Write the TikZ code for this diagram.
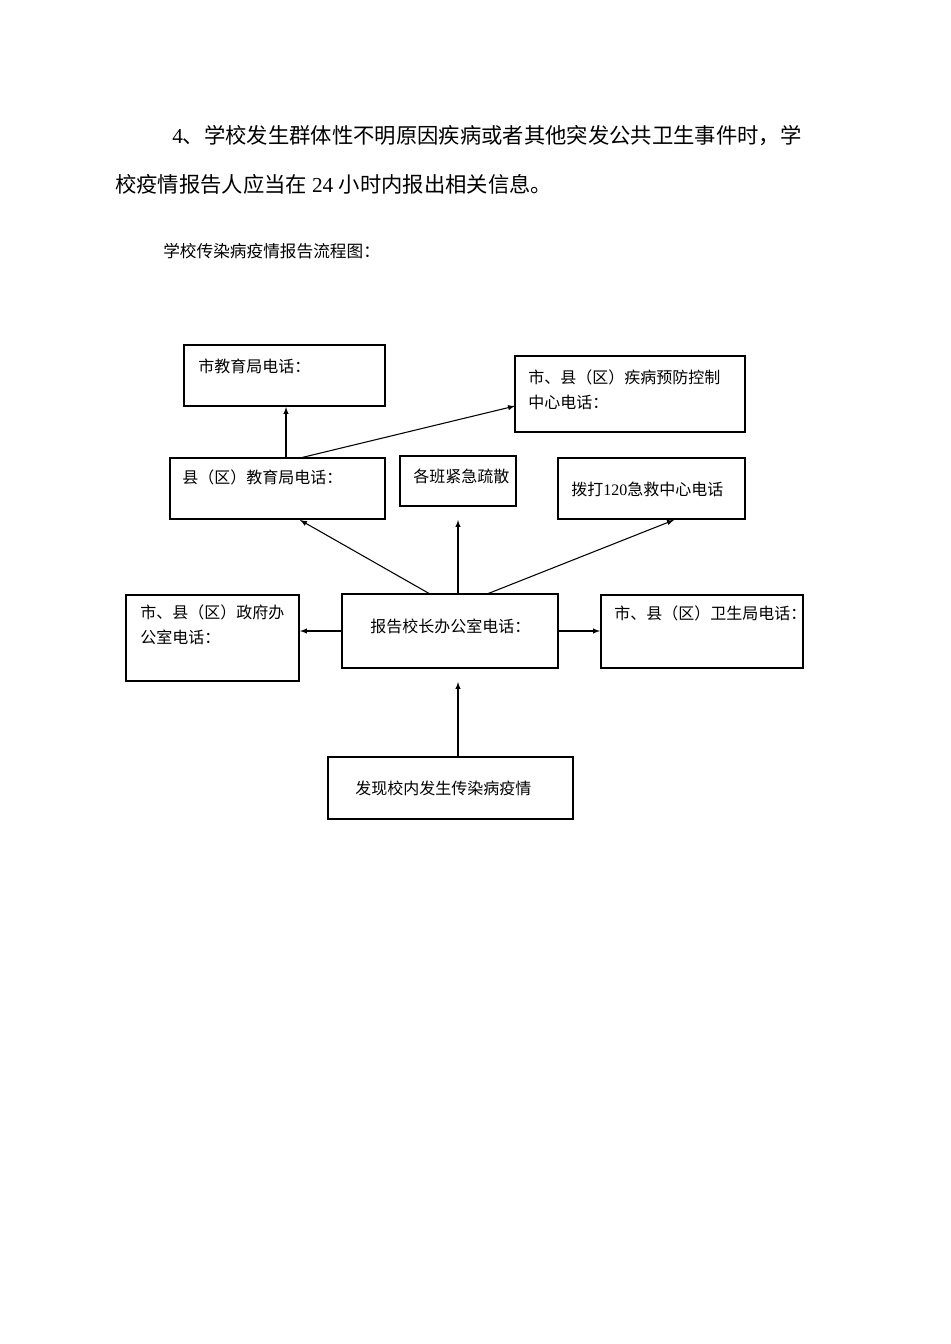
\documentclass[tikz,border=0pt]{standalone}
\usepackage{fontspec}
\setmainfont{Liberation Serif}
\newfontfamily\cjk{Noto Sans CJK SC}
\begin{document}
\begin{tikzpicture}[x=0.75pt,y=-0.75pt,
  bx/.style={draw,line width=0.8pt},
  lb/.style={anchor=west,inner sep=0pt,font=\cjk\fontsize{12}{19}\selectfont,align=left},
  ar/.style={-latex,line width=0.8pt}]
\useasboundingbox (0,0) rectangle (950,1344);
\node[anchor=west,inner sep=0pt,font=\cjk\fontsize{16}{20}\selectfont] (p1) at (172,136) {\rmfamily 4\cjk 、学校发生群体性不明原因疾病或者其他突发公共卫生事件时，学};
\node[anchor=west,inner sep=0pt,font=\cjk\fontsize{16}{20}\selectfont] (p2) at (115,184) {校疫情报告人应当在 \rmfamily 24 \cjk 小时内报出相关信息。};
\node[anchor=west,inner sep=0pt,font=\cjk\fontsize{12.5}{16}\selectfont] (cap) at (163,251) {学校传染病疫情报告流程图：};

\draw[bx] (184,345) rectangle (385,406); \node[lb] (t1) at (198,366) {市教育局电话：};
\coordinate (b1) at (286,407);
\draw[bx] (515,356) rectangle (745,432); \node[lb] (t2) at (528,390) {市、县（区）疾病预防控制\\中心电话：};
\coordinate (b2) at (515,406);
\draw[bx] (170,458) rectangle (385,519); \node[lb] (t3) at (182,477) {县（区）教育局电话：};
\coordinate (b3a) at (286,458); \coordinate (b3b) at (300,458); \coordinate (b3c) at (300,520);
\draw[bx] (400,456) rectangle (516,506); \node[lb] (t4) at (413,476) {各班紧急疏散};
\coordinate (b4) at (458,520);
\draw[bx] (558,458) rectangle (745,519); \node[lb] (t5) at (571,489) {拨打\rmfamily 120\cjk 急救中心电话};
\coordinate (b5) at (674,520);
\draw[bx] (126,595) rectangle (299,681); \node[lb] (t6) at (140,625) {市、县（区）政府办\\公室电话：};
\coordinate (b6) at (300,631);
\draw[bx] (342,594) rectangle (558,668); \node[lb] (t7) at (370,626) {报告校长办公室电话：};
\coordinate (c7l) at (342,631); \coordinate (c7r) at (558,631);
\coordinate (c7a) at (430,594); \coordinate (c7b) at (458,594); \coordinate (c7c) at (487,594);
\coordinate (c7d) at (458,682);
\draw[bx] (601,595) rectangle (803,668); \node[lb] (t8) at (614,613) {市、县（区）卫生局电话：};
\coordinate (b8) at (600,631);
\draw[bx] (328,757) rectangle (573,819); \node[lb] (t9) at (355,788) {发现校内发生传染病疫情};
\coordinate (c9) at (458,757);

\draw[ar] (c9) -- (c7d);
\draw[ar] (c7l) -- (b6);
\draw[ar] (c7r) -- (b8);
\draw[ar] (c7a) -- (b3c);
\draw[ar] (c7b) -- (b4);
\draw[ar] (c7c) -- (b5);
\draw[ar] (b3a) -- (b1);
\draw[ar] (b3b) -- (b2);
\end{tikzpicture}
\end{document}
